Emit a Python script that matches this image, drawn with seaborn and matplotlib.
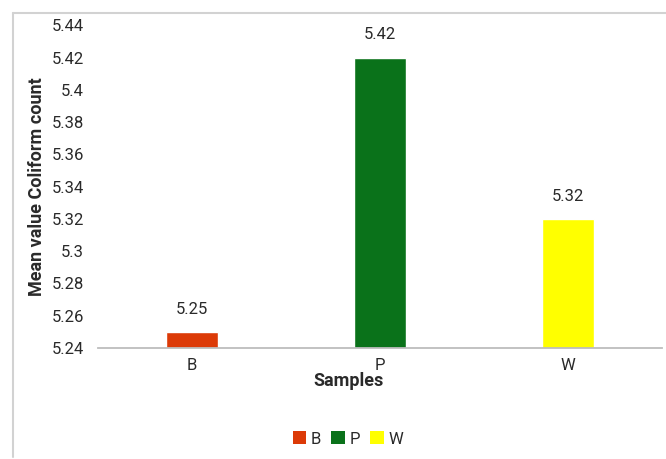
import matplotlib
matplotlib.use("Agg")
import matplotlib.pyplot as plt
from matplotlib.lines import Line2D
from matplotlib.patches import Patch
import seaborn as sns
import pandas as pd

# Mean coliform count per sample group
samples = ["B", "P", "W"]
mean_coliform = [5.25, 5.42, 5.32]
bar_colors = ["#DC3A07", "#0A721A", "#FFFF00"]
y_ticks = [5.24, 5.26, 5.28, 5.30, 5.32, 5.34, 5.36, 5.38, 5.40, 5.42, 5.44]

df = pd.DataFrame({"Samples": samples, "Mean": mean_coliform})

sns.set_theme(style="white")
plt.rcParams["font.family"] = ["Roboto", "DejaVu Sans"]
text_color = "#2A2A2A"

fig = plt.figure(figsize=(6.66, 4.59), dpi=100)
ax = fig.add_axes([0.147, 0.242, 0.847, 0.703])

sns.barplot(data=df, x="Samples", y="Mean", hue="Samples",
            palette=bar_colors, width=0.28, legend=False, ax=ax,
            saturation=1)

ax.set_ylim(5.24, 5.44)
ax.set_yticks(y_ticks)
ax.set_yticklabels([f"{round(v, 2):g}" for v in y_ticks])
ax.tick_params(axis="y", length=0, pad=10, labelsize=12, labelcolor=text_color)
ax.tick_params(axis="x", length=0, pad=7, labelsize=12, labelcolor=text_color)

for side in ["top", "right", "left"]:
    ax.spines[side].set_visible(False)
ax.spines["bottom"].set_color("#BDBDBD")
ax.spines["bottom"].set_linewidth(1.3)

for container in ax.containers:
    ax.bar_label(container, labels=[f"{v:.2f}" for v in container.datavalues],
                 padding=11, fontsize=12, color=text_color)

ax.set_xlabel("")
ax.set_ylabel("Mean value Coliform count", fontsize=13, fontweight="semibold",
              color=text_color)
ax.yaxis.set_label_coords(-0.092, 0.5)

fig.text(349 / 666, 1 - 381 / 459, "Samples", ha="center", va="center",
         fontsize=13, fontweight="semibold", color=text_color)

handles = [Patch(facecolor=c, edgecolor="none", label=s)
           for s, c in zip(samples, bar_colors)]
fig.legend(handles=handles, loc="center", bbox_to_anchor=(348 / 666, 1 - 439 / 459),
           ncol=3, frameon=False, fontsize=12, handlelength=0.8,
           handleheight=0.8, handletextpad=0.3, columnspacing=0.6,
           labelcolor=text_color)

# Thin frame around the chart area (left and top edges)
frame_kw = dict(color="#D2D2D2", linewidth=1.5, transform=fig.transFigure)
fig.add_artist(Line2D([12.5 / 666, 12.5 / 666], [0.005, 1 - 13 / 459], **frame_kw))
fig.add_artist(Line2D([12.5 / 666, 1.0], [1 - 13 / 459, 1 - 13 / 459], **frame_kw))

fig.savefig("out.png", dpi=100)
